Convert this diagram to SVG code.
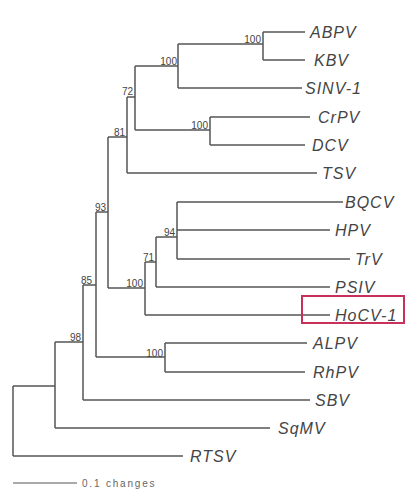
<svg xmlns="http://www.w3.org/2000/svg" width="406" height="490" viewBox="0 0 406 490">
<style>
.br{fill:none;stroke:#555;stroke-width:1.5}
.lf{font-family:"Liberation Sans",Arial,sans-serif;font-style:italic;font-size:16px;letter-spacing:1px;fill:#444}
.bs{font-family:"Liberation Sans",Arial,sans-serif;font-size:10px;fill:#444;text-anchor:end}
.sc{font-family:"Liberation Sans",Arial,sans-serif;font-size:10px;letter-spacing:1.8px;fill:#666}
</style>
<rect width="406" height="490" fill="#fff"/>
<g id="connectors" class="br">
<path d="M263,32V60M263,32H305M263,60H305"/>
<path d="M178,44H263M178,44V88M178,88H302"/>
<path d="M135,66H178M135,66V130"/>
<path d="M135,130H210M210,117V145M210,117H310M210,145H305"/>
<path d="M127,97H135M127,97V173M127,173H317"/>
<path d="M108,137H127M108,137V288M108,288H145"/>
<path d="M145,262V315M145,262H156M145,315H330"/>
<path d="M156,237V287M156,287H330M156,237H177"/>
<path d="M177,202V259M177,202H343M177,230H330M177,259H350"/>
<path d="M96,212H108M96,212V357M96,357H165"/>
<path d="M165,343V372M165,343H307M165,372H305"/>
<path d="M83,285H96M83,285V400M83,400H310"/>
<path d="M55,342H83M55,342V428M55,428H270"/>
<path d="M13,386H55M13,386V456M13,456H183"/>
<path d="M13,483H77" stroke-width="1"/>
</g>
<g id="leaves">
<text id="ABPV" class="lf" x="310" y="38">ABPV</text>
<text id="KBV" class="lf" x="314" y="66">KBV</text>
<text id="SINV-1" class="lf" x="305" y="94">SINV-1</text>
<text id="CrPV" class="lf" x="318" y="123">CrPV</text>
<text id="DCV" class="lf" x="312" y="151">DCV</text>
<text id="TSV" class="lf" x="322" y="179">TSV</text>
<text id="BQCV" class="lf" x="345" y="208">BQCV</text>
<text id="HPV" class="lf" x="335" y="236">HPV</text>
<text id="TrV" class="lf" x="355" y="265">TrV</text>
<text id="PSIV" class="lf" x="335" y="293">PSIV</text>
<g id="HoCV-1">
<rect x="302" y="296" width="102" height="27" fill="none" stroke="#c8325a" stroke-width="2"/>
<text class="lf" x="335" y="321">HoCV-1</text>
</g>
<text id="ALPV" class="lf" x="313" y="349">ALPV</text>
<text id="RhPV" class="lf" x="313" y="378">RhPV</text>
<text id="SBV" class="lf" x="315" y="406">SBV</text>
<text id="SqMV" class="lf" x="278" y="434">SqMV</text>
<text id="RTSV" class="lf" x="190" y="462">RTSV</text>
</g>
<g id="bootstrap">
<text class="bs" x="261" y="43">100</text>
<text class="bs" x="177" y="65">100</text>
<text class="bs" x="133" y="95">72</text>
<text class="bs" x="208" y="129">100</text>
<text class="bs" x="125" y="136">81</text>
<text class="bs" x="106" y="211">93</text>
<text class="bs" x="175" y="236">94</text>
<text class="bs" x="154" y="261">71</text>
<text class="bs" x="143" y="287">100</text>
<text class="bs" x="92" y="284">85</text>
<text class="bs" x="81" y="341">98</text>
<text class="bs" x="163" y="357">100</text>
</g>
<text id="scale" class="sc" x="82" y="487">0.1 changes</text>
</svg>
